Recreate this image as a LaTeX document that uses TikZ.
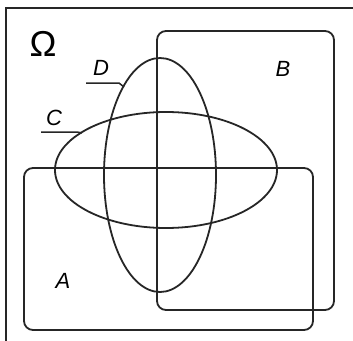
\documentclass[tikz,border=0pt]{standalone}
\usepackage{fontspec}
\setmainfont{Liberation Sans}
\begin{document}
\begin{tikzpicture}[x=1pt,y=-1pt,
  setline/.style={line width=1.8pt,black!85},
  lab/.style={font=\fontsize{22}{22}\selectfont\itshape,inner sep=0pt}]
\useasboundingbox (0,0) rectangle (353,340);
\fill[white] (0,0) rectangle (353,340);
% outer frame (left and top visible)
\draw[line width=2.6pt,black!85] (6,345) -- (6,8) -- (360,8);
% rectangles
\draw[setline,rounded corners=9pt] (157,31) rectangle (334,310);
\draw[setline,rounded corners=9pt] (24,168) rectangle (313,330);
% ellipses
\draw[setline] (166,170) ellipse [x radius=111, y radius=58];
\draw[setline] (160,175) ellipse [x radius=56, y radius=117];
% labels
\node[font=\fontsize{36}{36}\selectfont,inner sep=0pt] (om) at (43,44) {Ω};
\node[lab] (d) at (101,68) {D};
\node[lab] (c) at (54,118) {C};
\node[lab] (b) at (283,69) {B};
\node[lab] (a) at (63,281) {A};
\coordinate (dl) at (86,83);
\coordinate (dr) at (119,83);
\coordinate (de) at (124,87);
\coordinate (cl) at (41,132);
\coordinate (cr) at (77,132);
\coordinate (ce) at (82,133);
\draw[setline,line width=1.5pt] (dl) -- (dr) -- (de);
\draw[setline,line width=1.5pt] (cl) -- (cr) -- (ce);
\end{tikzpicture}
\end{document}
